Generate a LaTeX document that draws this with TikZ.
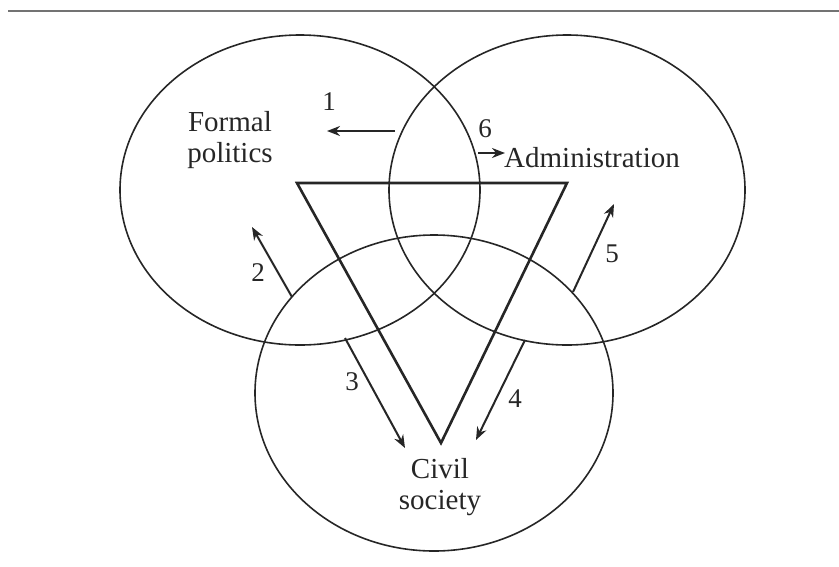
\documentclass[tikz,border=0pt]{standalone}
\usepackage{fontspec}
\setmainfont{Liberation Serif}
\usetikzlibrary{arrows.meta,shapes.geometric}
\begin{document}
\begin{tikzpicture}[x=1pt,y=-1pt,
  circ/.style={draw=black!85,line width=1.6pt},
  tri/.style={draw=black!85,line width=2.6pt,line join=miter},
  flow/.style={draw=black!85,line width=2pt,-{Stealth[length=13pt,width=10pt]}},
  lbl/.style={font=\fontsize{29}{31}\selectfont,text=black!85,inner sep=0pt,align=center},
  num/.style={font=\fontsize{27}{28}\selectfont,text=black!85,inner sep=0pt}]
\useasboundingbox (0,0) rectangle (839,566);
\draw[draw=black!55,line width=2pt] (8,11) -- (839,11);
% circles
\node[circ,ellipse,minimum width=360pt,minimum height=310pt,inner sep=0pt] (fp) at (300,190) {};
\node[circ,ellipse,minimum width=356pt,minimum height=310pt,inner sep=0pt] (ad) at (567,190) {};
\node[circ,ellipse,minimum width=358pt,minimum height=316pt,inner sep=0pt] (cs) at (434,393) {};
% triangle
\coordinate (t1) at (297,183);
\coordinate (t2) at (567,183);
\coordinate (t3) at (441,443);
\draw[tri] (t1) -- (t2) -- (t3) -- cycle;
% labels
\node[lbl] (lfp) at (230,140) {Formal\\politics};
\node[lbl,anchor=west] (lad) at (504,158) {Administration};
\node[lbl] (lcs) at (440,487) {Civil\\society};
% arrow end points
\coordinate (a1s) at (395,131); \coordinate (a1e) at (327,131);
\coordinate (a6s) at (478,153); \coordinate (a6e) at (505,153);
\coordinate (a2s) at (292,297); \coordinate (a2e) at (252,227);
\coordinate (a3s) at (345,338); \coordinate (a3e) at (405,448);
\coordinate (a4s) at (525,340); \coordinate (a4e) at (476,440);
\coordinate (a5s) at (573,292); \coordinate (a5e) at (614,204);
\draw[flow] (a1s) -- (a1e);
\draw[flow] (a6s) -- (a6e);
\draw[flow] (a2s) -- (a2e);
\draw[flow] (a3s) -- (a3e);
\draw[flow] (a4s) -- (a4e);
\draw[flow] (a5s) -- (a5e);
% numbers
\node[num] (n1) at (329,102) {1};
\node[num] (n6) at (485,129) {6};
\node[num] (n2) at (258,273) {2};
\node[num] (n3) at (352,382) {3};
\node[num] (n4) at (515,399) {4};
\node[num] (n5) at (612,254) {5};
\end{tikzpicture}
\end{document}
